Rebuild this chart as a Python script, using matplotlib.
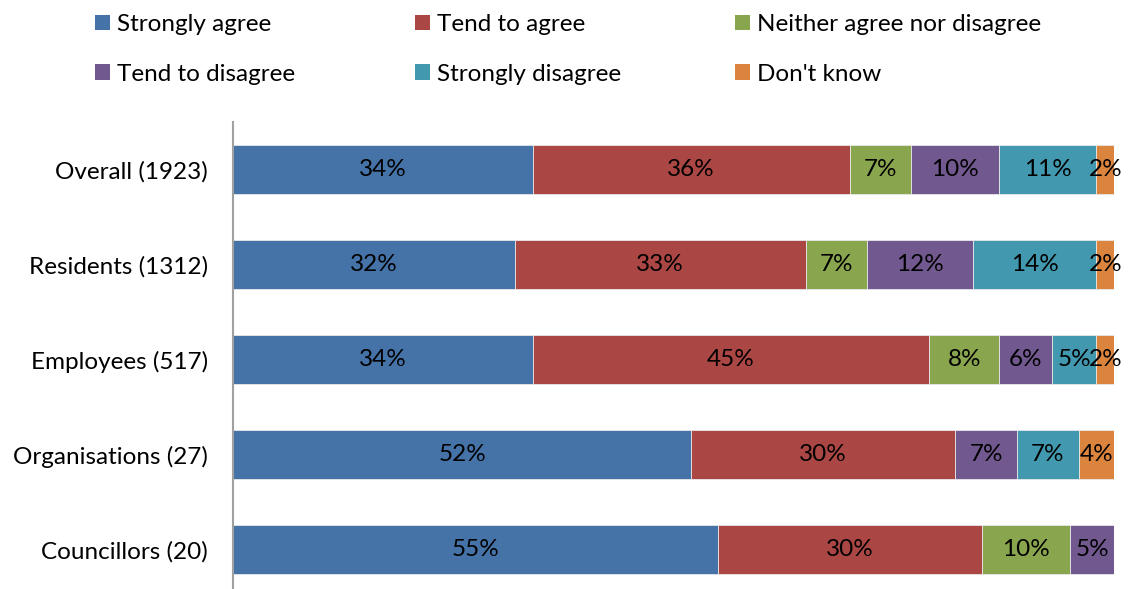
import matplotlib.pyplot as plt
import numpy as np
from matplotlib.patches import Patch

plt.rcParams['font.family'] = ['Lato', 'DejaVu Sans']

# Survey groups, top to bottom
groups = ['Overall (1923)', 'Residents (1312)', 'Employees (517)',
          'Organisations (27)', 'Councillors (20)']

responses = ['Strongly agree', 'Tend to agree', 'Neither agree nor disagree',
             'Tend to disagree', 'Strongly disagree', "Don't know"]

# Percent of respondents per response, one list per group
strongly_agree = [34, 32, 34, 52, 55]
tend_agree = [36, 33, 45, 30, 30]
neither = [7, 7, 8, 0, 10]
tend_disagree = [10, 12, 6, 7, 5]
strongly_disagree = [11, 14, 5, 7, 0]
dont_know = [2, 2, 2, 4, 0]

series = [strongly_agree, tend_agree, neither, tend_disagree,
          strongly_disagree, dont_know]
colors = ['#4572A7', '#AA4643', '#89A54E', '#71588F', '#4198AF', '#DB843D']

FS = 17.5

fig = plt.figure(figsize=(11.34, 5.89), dpi=100)
ax = fig.add_axes([233 / 1134, 1 - 597 / 589, 881 / 1134, 475 / 589])

y = np.arange(len(groups))
left = np.zeros(len(groups))
for vals, col in zip(series, colors):
    vals = np.array(vals, dtype=float)
    bars = ax.barh(y, vals, left=left, height=0.52, color=col,
                   edgecolor='#E8E8E8', linewidth=0.6)
    for b, v in zip(bars, vals):
        if v > 0:
            ax.text(b.get_x() + b.get_width() / 2, b.get_y() + b.get_height() / 2,
                    f'{int(v)}%', ha='center', va='center', fontsize=FS,
                    color='black', clip_on=False)
    left += vals

ax.set_xlim(0, 100)
ax.set_ylim(len(groups) - 0.5, -0.5)
ax.set_yticks(y)
ax.set_yticklabels(groups, fontsize=FS)
ax.tick_params(axis='y', length=0, pad=18)
ax.set_xticks([])
for s in ['top', 'right', 'bottom']:
    ax.spines[s].set_visible(False)
ax.spines['left'].set_color('#A0A0A0')
ax.spines['left'].set_linewidth(1.5)

# Legend laid out as three columns of two entries
col_x = [98, 418, 738]
for c in range(3):
    handles = [Patch(facecolor=colors[c], label=responses[c]),
               Patch(facecolor=colors[c + 3], label=responses[c + 3])]
    fig.legend(handles=handles, loc='upper left',
               bbox_to_anchor=((col_x[c] - 3) / 1134, 1 - 14 / 589),
               frameon=False, fontsize=FS, handlelength=0.62, handleheight=0.62,
               handletextpad=0.3, labelspacing=1.18, borderpad=0, borderaxespad=0)

fig.savefig('out.png', dpi=100)
